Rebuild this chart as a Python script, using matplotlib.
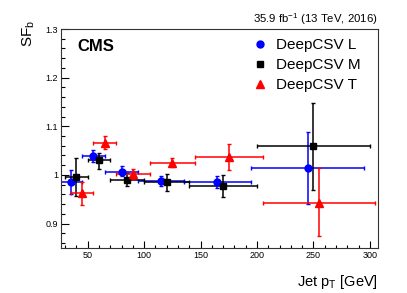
import matplotlib
matplotlib.use("Agg")
import matplotlib.pyplot as plt
from matplotlib.ticker import MultipleLocator, FormatStrFormatter
from matplotlib.lines import Line2D

plt.rcParams['font.family'] = ['Liberation Sans', 'DejaVu Sans']
plt.rcParams['mathtext.fontset'] = 'custom'
plt.rcParams['mathtext.rm'] = 'Liberation Sans'
plt.rcParams['mathtext.it'] = 'Liberation Sans:italic'
plt.rcParams['mathtext.bf'] = 'Liberation Sans:bold'

# Bin edges (each working point shifted by 5 GeV for readability)
loose_lo = [25, 45, 65, 95, 135, 195]
loose_hi = [45, 65, 95, 135, 195, 295]
loose_sf = [0.985, 1.038, 1.007, 0.987, 0.986, 1.014]
loose_up = [1.010, 1.051, 1.018, 0.997, 0.998, 1.089]
loose_dn = [0.961, 1.026, 0.997, 0.978, 0.974, 0.940]

medium_lo = [30, 50, 70, 100, 140, 200]
medium_hi = [50, 70, 100, 140, 200, 300]
medium_sf = [0.995, 1.030, 0.990, 0.985, 0.977, 1.059]
medium_up = [1.034, 1.045, 1.003, 1.002, 1.000, 1.148]
medium_dn = [0.956, 1.012, 0.978, 0.966, 0.954, 0.969]

tight_lo = [35, 55, 75, 105, 145, 205]
tight_hi = [55, 75, 105, 145, 205, 305]
tight_sf = [0.962, 1.065, 1.001, 1.025, 1.037, 0.942]
tight_up = [0.986, 1.080, 1.012, 1.035, 1.064, 1.014]
tight_dn = [0.938, 1.054, 0.992, 1.016, 1.011, 0.874]

series = [
    ("DeepCSV L", loose_lo, loose_hi, loose_sf, loose_up, loose_dn, "#0000ff", "o"),
    ("DeepCSV M", medium_lo, medium_hi, medium_sf, medium_up, medium_dn, "black", "s"),
    ("DeepCSV T", tight_lo, tight_hi, tight_sf, tight_up, tight_dn, "#ff0000", "^"),
]

fig = plt.figure(figsize=(4.07, 2.93), dpi=100)
ax = fig.add_axes([0.149, 0.154, 0.779, 0.747])

handles = []
for label, lo, hi, sf, up, dn, color, marker in series:
    x = [(a + b) / 2 for a, b in zip(lo, hi)]
    xerr = [[xi - a for xi, a in zip(x, lo)], [b - xi for xi, b in zip(x, hi)]]
    yerr = [[s - d for s, d in zip(sf, dn)], [u - s for s, u in zip(sf, up)]]
    ms = 5.0 if marker != "^" else 5.3
    ax.errorbar(x, sf, xerr=xerr, yerr=yerr, fmt=marker, color=color,
                ms=ms, elinewidth=1.1, capsize=1.2, capthick=1.0)
    handles.append(Line2D([], [], ls='none', marker=marker, color=color,
                          ms=ms, label=label))

ax.set_xlim(26, 307)
ax.set_ylim(0.85, 1.3)

ax.xaxis.set_major_locator(MultipleLocator(50))
ax.xaxis.set_minor_locator(MultipleLocator(10))
ax.yaxis.set_major_locator(MultipleLocator(0.1))
ax.yaxis.set_minor_locator(MultipleLocator(0.02))
ax.yaxis.set_major_formatter(FormatStrFormatter('%g'))
ax.tick_params(which='both', direction='in', top=False, right=False,
               labelsize=6.5, width=0.8)
ax.tick_params(axis='y', which='major', length=6, pad=2)
ax.tick_params(axis='y', which='minor', length=3)
ax.tick_params(axis='x', which='major', length=5, pad=2)
ax.tick_params(axis='x', which='minor', length=2.5)
for sp in ax.spines.values():
    sp.set_linewidth(0.8)
    sp.set_color('#333333')

ax.set_xlabel(r'Jet p$_{\mathrm{T}}$ [GeV]', fontsize=10.5, loc='right')
ax.xaxis.set_label_coords(1.0, -0.115)
ax.xaxis.label.set_va('top')
ax.set_ylabel(r'SF$_{\mathrm{b}}$', fontsize=11, loc='top')
ax.yaxis.set_label_coords(-0.075, 1.04)

ax.text(0.054, 0.901, 'CMS', transform=ax.transAxes, fontsize=12,
        fontweight='bold', va='baseline', ha='left')
ax.text(1.0, 1.027, r'35.9 fb$^{-1}$ (13 TeV, 2016)', transform=ax.transAxes,
        fontsize=8.2, ha='right', va='baseline')

ax.legend(handles=handles, loc='upper left', bbox_to_anchor=(0.585, 0.985),
          frameon=False, fontsize=11, handlelength=1.0, handletextpad=0.55,
          labelspacing=0.38, borderaxespad=0)

fig.savefig("out.png", dpi=100)
